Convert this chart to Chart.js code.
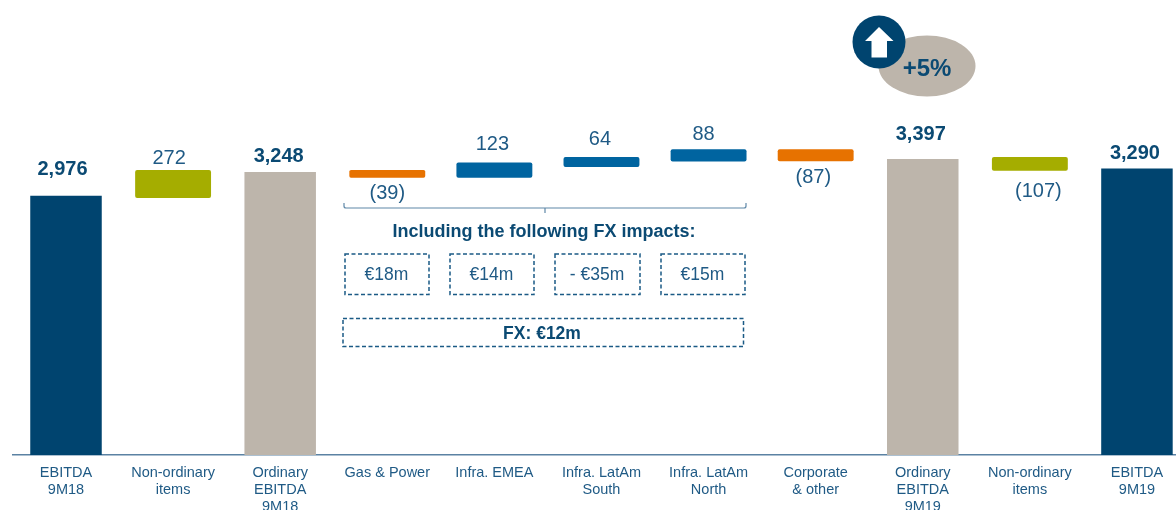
<!DOCTYPE html>
<html>
<head>
<meta charset="utf-8">
<style>
html, body { margin: 0; background: #fff; overflow: hidden; width: 1176px; height: 510px; }
#wrap { width: 1176px; height: 510px; overflow: hidden; }
</style>
<script src="https://cdn.jsdelivr.net/npm/chart.js@4/dist/chart.umd.js"></script>
</head>
<body>
<div id="wrap"><canvas id="bridge" width="1192" height="510"></canvas></div>
<script>
const categories = [
    ['EBITDA', '9M18'], ['Non-ordinary', 'items'], ['Ordinary', 'EBITDA', '9M18'],
    ['Gas & Power'], ['Infra. EMEA'], ['Infra. LatAm', 'South'], ['Infra. LatAm', 'North'],
    ['Corporate', '& other'], ['Ordinary', 'EBITDA', '9M19'], ['Non-ordinary', 'items'], ['EBITDA', '9M19']
]
const totals = [2976, null, 3248, null, null, null, null, null, 3397, null, 3290]
const moveStart = [null, 2976, null, 3248, 3209, 3332, 3396, 3484, null, 3397, null]
const moveEnd = [null, 3248, null, 3209, 3332, 3396, 3484, 3397, null, 3290, null]
const valueLabels = ['2,976', '272', '3,248', '(39)', '123', '64', '88', '(87)', '3,397', '(107)', '3,290']
const boldLabels = [true, false, true, false, false, false, false, false, true, false, true]
const fxImpacts = ['€18m', '€14m', '- €35m', '€15m']
const fxTotal = 'FX: €12m'
const fxTitle = 'Including the following FX impacts:'
const growth = '+5%'

const NAVY = '#00446f'
const TAUPE = '#bdb5ab'
const OLIVE = '#a5ad00'
const ORANGE = '#e77200'
const BLUE = '#0064a0'
const TEXT = '#1f5a85'
const BOLD_TEXT = '#0b4a73'
const FONT = '"Liberation Sans", Arial, sans-serif'

/*Shift of each value label from its bar (x, then y from the bar edge)*/
const labelDx = [-3.5, -4, -1.5, 0, -2, -1.5, -5, -2.4, -2, 8.5, -2]
const labelDy = [-26, -14, -15.5, 18, -20.5, -20, -16.7, 18.7, -25, 23, -15]

function text(ctx, str, x, y, size, bold, color) {
    ctx.font = (bold ? 'bold ' : '') + size + 'px ' + FONT
    ctx.fillStyle = color
    ctx.textAlign = 'center'
    ctx.textBaseline = 'middle'
    ctx.fillText(str, x, y)
}

function dashedBox(ctx, x, y, w, h) {
    ctx.save()
    ctx.strokeStyle = '#1a5a85'
    ctx.lineWidth = 1.5
    ctx.setLineDash([4, 2.5])
    ctx.strokeRect(x, y, w, h)
    ctx.restore()
}

const annotations = {
    id: 'annotations',
    afterDatasetsDraw(chart) {
        const ctx = chart.ctx
        const totalBars = chart.getDatasetMeta(0).data
        const moveBars = chart.getDatasetMeta(1).data

        valueLabels.forEach((label, i) => {
            const bar = totals[i] !== null ? totalBars[i] : moveBars[i]
            const edge = labelDy[i] > 0 ? Math.max(bar.y, bar.base) : Math.min(bar.y, bar.base)
            text(ctx, label, bar.x + labelDx[i], edge + labelDy[i], 20, boldLabels[i], boldLabels[i] ? BOLD_TEXT : TEXT)
        })

        /*Bracket below the four business bars*/
        ctx.save()
        ctx.strokeStyle = '#5f88a8'
        ctx.lineWidth = 1.2
        ctx.beginPath()
        ctx.moveTo(344, 203)
        ctx.lineTo(344, 206)
        ctx.quadraticCurveTo(344, 208, 346, 208)
        ctx.lineTo(744, 208)
        ctx.quadraticCurveTo(746, 208, 746, 206)
        ctx.lineTo(746, 203)
        ctx.moveTo(545, 208)
        ctx.lineTo(545, 213)
        ctx.stroke()
        ctx.restore()

        text(ctx, fxTitle, 544, 232.5, 18, true, BOLD_TEXT)

        const boxX = [345, 450, 555, 661]
        const boxW = [84, 84, 85, 84]
        fxImpacts.forEach((label, i) => {
            dashedBox(ctx, boxX[i], 254, boxW[i], 40.5)
            text(ctx, label, boxX[i] + boxW[i] / 2 - 0.5, 275.5, 17.5, false, TEXT)
        })
        dashedBox(ctx, 343, 318.5, 400.5, 28)
        text(ctx, fxTotal, 542, 334, 17.5, true, BOLD_TEXT)

        /*+5% bubble with the arrow circle on top*/
        ctx.fillStyle = TAUPE
        ctx.beginPath()
        ctx.ellipse(927, 66, 48.5, 30.5, 0, 0, Math.PI * 2)
        ctx.fill()
        text(ctx, growth, 927, 69, 24, true, BOLD_TEXT)
        ctx.fillStyle = NAVY
        ctx.beginPath()
        ctx.arc(879, 42, 26.5, 0, Math.PI * 2)
        ctx.fill()
        ctx.fillStyle = '#fff'
        ctx.beginPath()
        ctx.moveTo(879, 27)
        ctx.lineTo(893.5, 41)
        ctx.lineTo(887, 41)
        ctx.lineTo(887, 57.5)
        ctx.lineTo(871.5, 57.5)
        ctx.lineTo(871.5, 41)
        ctx.lineTo(865, 41)
        ctx.closePath()
        ctx.fill()
    }
}

const ctx = document.getElementById('bridge').getContext('2d')
const bridge = new Chart(ctx, {
    type: 'bar',
    data: {
        labels: categories,
        datasets: [
            {
                label: 'Totals',
                data: totals,
                backgroundColor: [NAVY, null, TAUPE, null, null, null, null, null, TAUPE, null, NAVY],
                borderWidth: 0,
                inflateAmount: 0,
                barThickness: 71.5
            },
            {
                label: 'Changes',
                data: moveStart.map((start, i) => start === null ? null : [start, moveEnd[i]]),
                backgroundColor: [null, OLIVE, null, ORANGE, BLUE, BLUE, BLUE, ORANGE, null, OLIVE, null],
                borderWidth: 0,
                borderRadius: 2,
                borderSkipped: false,
                inflateAmount: 2.2,
                barThickness: 71.5
            }
        ]
    },
    options: {
        responsive: false,
        animation: false,
        devicePixelRatio: 1,
        layout: { padding: { left: 12.45, right: 1.5, top: 19.5, bottom: 0 } },
        plugins: { legend: { display: false }, tooltip: { enabled: false } },
        scales: {
            x: {
                stacked: false,
                grid: { display: false, drawTicks: false },
                border: { display: true, color: '#5b82a3', width: 1.5 },
                ticks: {
                    color: TEXT,
                    font: { family: FONT, size: 14.5, lineHeight: 1.15 },
                    padding: 10,
                    autoSkip: false,
                    maxRotation: 0
                },
                afterFit(scale) { scale.height = 55 }
            },
            y: { display: false, min: 0, max: 5000 }
        },
        datasets: { bar: { grouped: false } }
    },
    plugins: [annotations]
})
</script>
</body>
</html>
